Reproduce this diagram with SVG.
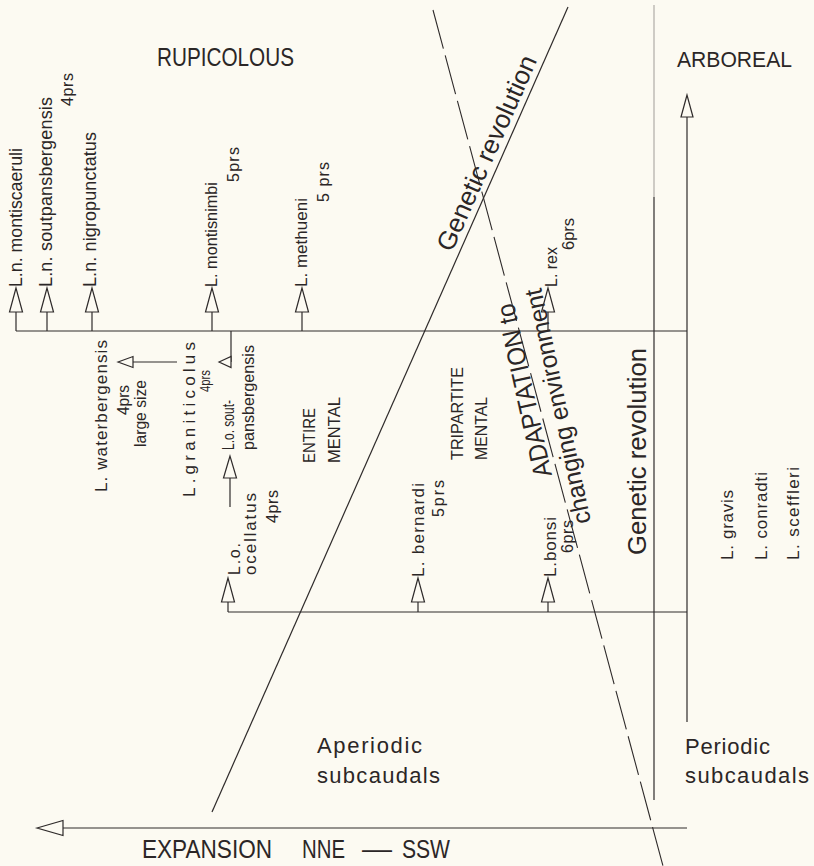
<svg xmlns="http://www.w3.org/2000/svg" xmlns:xlink="http://www.w3.org/1999/xlink" width="814" height="866" viewBox="0 0 814 866">
<style>
.ln{stroke:#2e2a2a;stroke-width:1.2;fill:none}
.faint{stroke:#b5b2ac;stroke-width:1.3;fill:none}
.dash{stroke:#2e2a2a;stroke-width:1.1;fill:none;stroke-dasharray:40 7}
.ah{fill:#fcfaf2;stroke:#2e2a2a;stroke-width:1.2;stroke-linejoin:miter}
text{font-family:"Liberation Sans",Arial,sans-serif;fill:#2b2626}
.sp{font-size:17px}
.pr{font-size:16px}
.big{font-size:26px}
.mid{font-size:22px}
</style>
<defs>
<path id="up" class="ah" d="M0,0 L-6.5,24 L6.5,24 Z"/>
</defs>
<rect width="814" height="866" fill="#fcfaf2"/>

<g id="connectors">
  <line class="ln" x1="16" y1="331" x2="687" y2="331"/>
  <line class="ln" x1="228" y1="612" x2="687" y2="612"/>
  <line class="ln" x1="16" y1="331" x2="16" y2="312"/>
  <line class="ln" x1="47" y1="331" x2="47" y2="312"/>
  <line class="ln" x1="92" y1="331" x2="92" y2="312"/>
  <line class="ln" x1="212" y1="331" x2="212" y2="312"/>
  <line class="ln" x1="302" y1="331" x2="302" y2="312"/>
  <line class="ln" x1="548" y1="331" x2="548" y2="312"/>
  <use xlink:href="#up" x="16" y="288"/>
  <use xlink:href="#up" x="47" y="288"/>
  <use xlink:href="#up" x="92" y="288"/>
  <use xlink:href="#up" x="212" y="288"/>
  <use xlink:href="#up" x="302" y="288"/>
  <use xlink:href="#up" x="548" y="288"/>
  <line class="ln" x1="228" y1="612" x2="228" y2="602"/>
  <line class="ln" x1="418" y1="612" x2="418" y2="602"/>
  <line class="ln" x1="548" y1="612" x2="548" y2="602"/>
  <use xlink:href="#up" x="228" y="578"/>
  <use xlink:href="#up" x="418" y="578"/>
  <use xlink:href="#up" x="548" y="578"/>
  <line class="ln" x1="231" y1="331" x2="231" y2="362"/>
  <polygon class="ah" points="219,362 231,356.5 231,367.5"/>
  <line class="ln" x1="177" y1="362" x2="133" y2="362"/>
  <polygon class="ah" points="118,362 133,356.5 133,367.5"/>
  <line class="ln" x1="230" y1="507" x2="230" y2="478"/>
  <polygon class="ah" points="230,456 223.5,478 236.5,478"/>
  <line class="ln" x1="687" y1="117" x2="687" y2="722"/>
  <polygon class="ah" points="687,95 681,117 693,117"/>
  <line class="faint" x1="654" y1="5" x2="654" y2="197"/>
  <line class="ln" x1="654" y1="197" x2="654" y2="800"/>
  <line class="ln" x1="63" y1="828" x2="687" y2="828"/>
  <polygon class="ah" points="37,828 63,820.5 63,835.5"/>
  <line class="ln" x1="212" y1="812" x2="568" y2="7"/>
  <line class="dash" x1="433" y1="10" x2="663" y2="866"/>
</g>

<g id="region-labels">
  <text class="big" x="157" y="66" textLength="137" lengthAdjust="spacingAndGlyphs">RUPICOLOUS</text>
  <text class="mid" x="677" y="67" textLength="115" lengthAdjust="spacingAndGlyphs">ARBOREAL</text>
</g>

<g id="n-montiscaeruli"><text class="sp" style="font-size:18px" transform="translate(22,287) rotate(-90)" textLength="139" lengthAdjust="spacingAndGlyphs">L.n. montiscaeruli</text></g>
<g id="n-soutpansbergensis">
  <text class="sp" style="font-size:18px" transform="translate(52,287) rotate(-90)" textLength="190">L.n. soutpansbergensis</text>
  <text class="pr" transform="translate(73,106) rotate(-90)" textLength="33">4prs</text>
</g>
<g id="n-nigropunctatus"><text class="sp" style="font-size:18px" transform="translate(96,287) rotate(-90)" textLength="155">L.n. nigropunctatus</text></g>
<g id="n-montisnimbi">
  <text class="sp" transform="translate(217,287) rotate(-90)" textLength="105" lengthAdjust="spacingAndGlyphs">L. montisnimbi</text>
  <text class="pr" transform="translate(239,182) rotate(-90)" textLength="35">5prs</text>
</g>
<g id="n-methueni">
  <text class="sp" transform="translate(307,287) rotate(-90)" textLength="89">L. methueni</text>
  <text class="pr" transform="translate(329,202) rotate(-90)" textLength="40">5 prs</text>
</g>
<g id="n-rex">
  <text class="pr" transform="translate(557,287) rotate(-90)" textLength="40">L. rex</text>
  <text class="pr" transform="translate(574,250) rotate(-90)" textLength="32" lengthAdjust="spacingAndGlyphs">6prs</text>
</g>
<g id="n-waterbergensis">
  <text class="sp" transform="translate(107,492) rotate(-90)" textLength="152">L.  waterbergensis</text>
  <text class="pr" transform="translate(129,415) rotate(-90)" textLength="30" lengthAdjust="spacingAndGlyphs">4prs</text>
  <text class="pr" transform="translate(146,447) rotate(-90)" textLength="67" lengthAdjust="spacingAndGlyphs">large size</text>
</g>
<g id="n-graniticolus">
  <text class="sp" transform="translate(195,497) rotate(-90)" textLength="155">L.graniticolus</text>
  <text class="pr" style="font-size:14px" transform="translate(210,392) rotate(-90)" textLength="22" lengthAdjust="spacingAndGlyphs">4prs</text>
</g>
<g id="n-o-soutpansbergensis">
  <text class="pr" transform="translate(234,450) rotate(-90)" textLength="50" lengthAdjust="spacingAndGlyphs">L.o. sout-</text>
  <text class="sp" transform="translate(254,450) rotate(-90)" textLength="105" lengthAdjust="spacingAndGlyphs">pansbergensis</text>
</g>
<g id="n-ocellatus">
  <text class="pr" transform="translate(240,575) rotate(-90)" textLength="32">L.o.</text>
  <text class="sp" transform="translate(256,575) rotate(-90)" textLength="82">ocellatus</text>
  <text class="pr" transform="translate(278,523) rotate(-90)" textLength="33">4prs</text>
</g>
<g id="n-entire-mental">
  <text class="sp" transform="translate(315,463) rotate(-90)" textLength="55" lengthAdjust="spacingAndGlyphs">ENTIRE</text>
  <text class="sp" transform="translate(340,463) rotate(-90)" textLength="66" lengthAdjust="spacingAndGlyphs">MENTAL</text>
</g>
<g id="n-bernardi">
  <text class="sp" transform="translate(424,577) rotate(-90)" textLength="94">L. bernardi</text>
  <text class="pr" transform="translate(444,517) rotate(-90)" textLength="37">5prs</text>
</g>
<g id="n-tripartite-mental">
  <text class="sp" transform="translate(463,460) rotate(-90)" textLength="93" lengthAdjust="spacingAndGlyphs">TRIPARTITE</text>
  <text class="sp" transform="translate(487,460) rotate(-90)" textLength="63" lengthAdjust="spacingAndGlyphs">MENTAL</text>
</g>
<g id="n-bonsi">
  <text class="sp" transform="translate(556,577) rotate(-90)" textLength="60">L.bonsi</text>
  <text class="pr" transform="translate(573,553) rotate(-90)" textLength="33">6prs</text>
</g>
<g id="n-adaptation">
  <text class="big" transform="translate(552,475) rotate(-102.5)" textLength="177" lengthAdjust="spacingAndGlyphs">ADAPTATION  to</text>
  <text class="big" style="font-size:25px" transform="translate(591,522) rotate(-102)" textLength="240" lengthAdjust="spacingAndGlyphs">changing  environment</text>
</g>
<g id="n-genetic-diag">
  <text class="big" transform="translate(452,253) rotate(-66.1)" textLength="211" lengthAdjust="spacingAndGlyphs">Genetic  revolution</text>
</g>
<g id="n-genetic-vert">
  <text class="big" transform="translate(646,555) rotate(-90)" textLength="207" lengthAdjust="spacingAndGlyphs">Genetic  revolution</text>
</g>
<g id="n-arboreal-species">
  <text class="sp" transform="translate(733,560) rotate(-90)" textLength="70">L. gravis</text>
  <text class="sp" transform="translate(767,560) rotate(-90)" textLength="88">L. conradti</text>
  <text class="sp" transform="translate(799,560) rotate(-90)" textLength="93">L. sceffleri</text>
</g>
<g id="n-aperiodic">
  <text class="mid" x="317" y="753" textLength="105">Aperiodic</text>
  <text class="mid" x="317" y="783" textLength="123">subcaudals</text>
</g>
<g id="n-periodic">
  <text class="mid" x="685" y="754" textLength="85">Periodic</text>
  <text class="mid" x="685" y="783" textLength="124">subcaudals</text>
</g>
<g id="n-expansion">
  <text class="big" x="142" y="858" textLength="130" lengthAdjust="spacingAndGlyphs">EXPANSION</text>
  <text class="big" x="302" y="858" textLength="43" lengthAdjust="spacingAndGlyphs">NNE</text>
  <text class="big" x="362" y="858" textLength="30" lengthAdjust="spacingAndGlyphs">—</text>
  <text class="big" x="402" y="858" textLength="48" lengthAdjust="spacingAndGlyphs">SSW</text>
</g>
</svg>
